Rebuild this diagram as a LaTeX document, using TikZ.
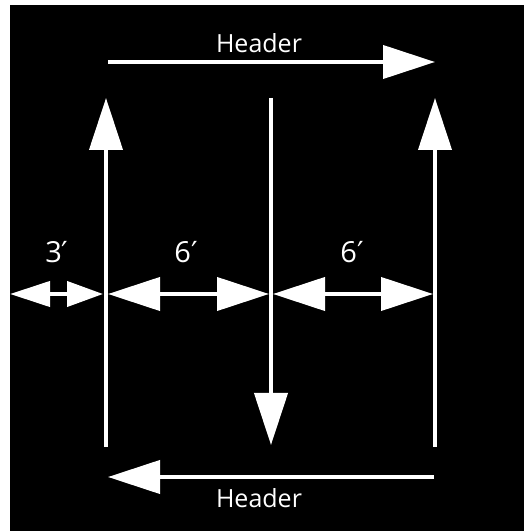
\documentclass[tikz,border=0pt]{standalone}
\usepackage{fontspec}
\setmainfont{Open Sans}
\newfontfamily\primefont{DejaVu Sans}
\usetikzlibrary{arrows.meta,positioning}

\begin{document}
\begin{tikzpicture}[x=1pt, y=1pt, line width=4pt, draw=white,
  big/.style={-{Triangle[length=52pt,width=33pt]}},
  bigboth/.style={{Triangle[length=52pt,width=33pt]}-{Triangle[length=52pt,width=33pt]}},
  smallboth/.style={{Triangle[length=40pt,width=25pt]}-{Triangle[length=36pt,width=25pt]}},
  lbl/.style={text=white, font=\fontsize{25}{30}\selectfont, inner sep=0pt},
  gaplbl/.style={lbl, font=\fontsize{29}{34}\selectfont}]
\useasboundingbox (0,0) rectangle (524,531);
\fill[black] (10,0) rectangle (524,526);

% walls
\coordinate (w1b) at (106,84);
\coordinate (w1t) at (106,433);
\coordinate (w2t) at (271,433);
\coordinate (w2b) at (271,86);
\coordinate (w3b) at (435,84);
\coordinate (w3t) at (435,433);
\draw [big] (w1b) -- (w1t);
\draw [big] (w2t) -- (w2b);
\draw [big] (w3b) -- (w3t);

% headers
\coordinate (h1s) at (108,469);
\coordinate (h1e) at (435,469);
\coordinate (h2s) at (434,54);
\coordinate (h2e) at (108,54);
\draw [big] (h1s) -- (h1e);
\draw [big] (h2s) -- (h2e);
\node [lbl] (head_top) at (259,488) {Header};
\node [lbl] (head_bot) at (259,33) {Header};

% spacing
\coordinate (d0) at (10,237);
\coordinate (d1) at (103,237);
\coordinate (d2) at (108,237);
\coordinate (d3) at (269,237);
\coordinate (d4) at (273,237);
\coordinate (d5) at (433,237);
\draw [smallboth] (d0) -- (d1);
\draw [bigboth] (d2) -- (d3);
\draw [bigboth] (d4) -- (d5);
\node [gaplbl] (gap_a) at (57,279) {3{\primefont′}};
\node [gaplbl] (gap_b) at (186,279) {6{\primefont′}};
\node [gaplbl] (gap_c) at (352,279) {6{\primefont′}};
\end{tikzpicture}
\end{document}
